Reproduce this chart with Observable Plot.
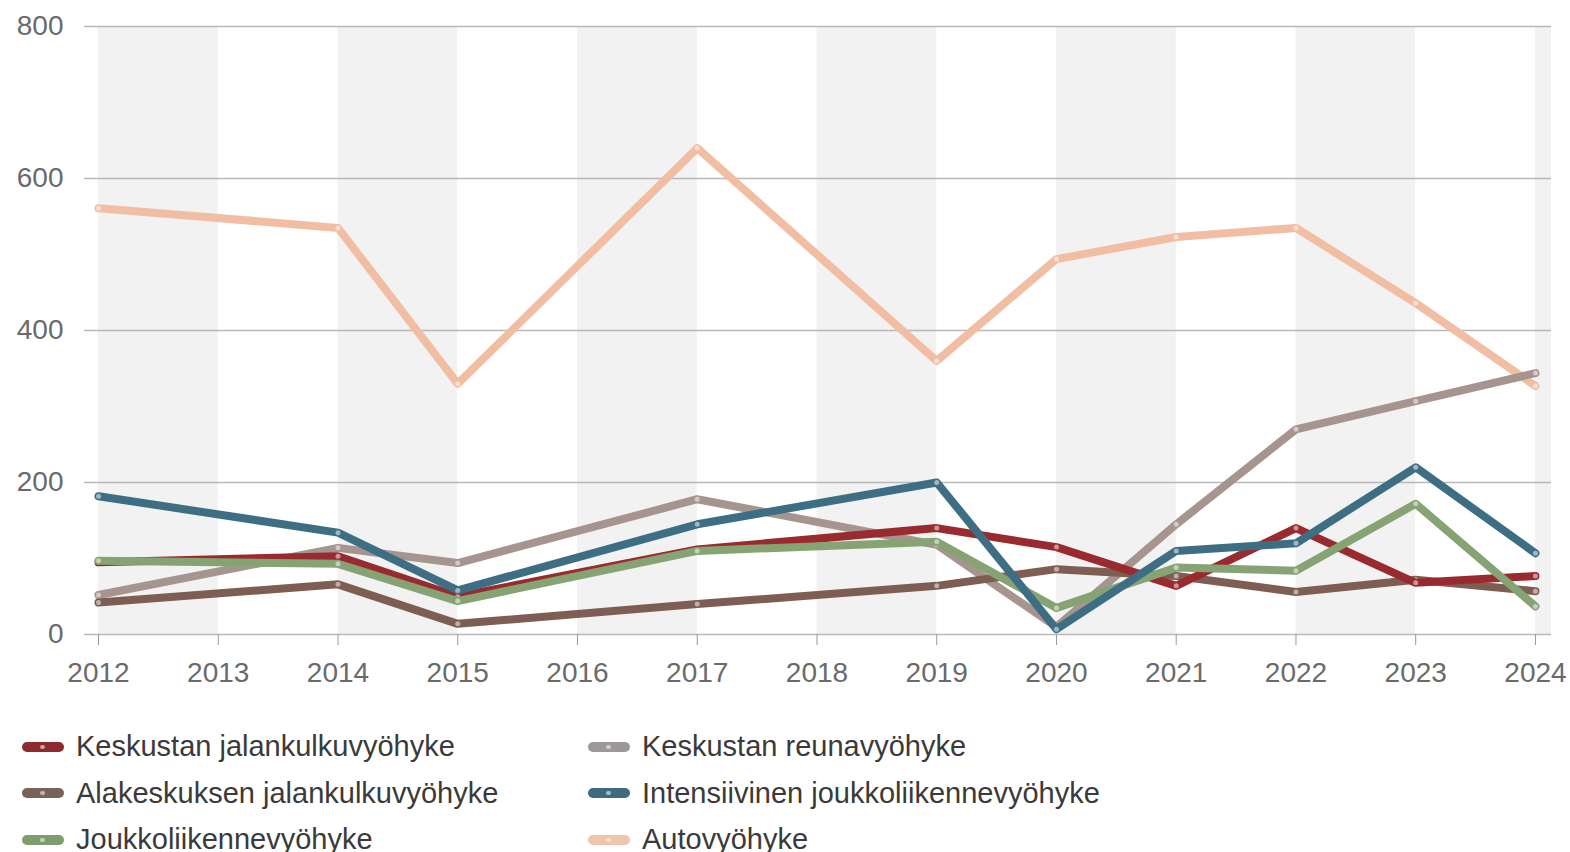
<!DOCTYPE html>
<html>
<head>
<meta charset="utf-8">
<script src="https://cdn.jsdelivr.net/npm/d3@7"></script>
<script src="https://cdn.jsdelivr.net/npm/@observablehq/plot@0.6"></script>
<style>
  html, body { margin: 0; padding: 0; background: #fff; }
  body { width: 1570px; height: 852px; overflow: hidden; font-family: "Liberation Sans", Arial, sans-serif; }
  #legend { position: absolute; left: 0; top: 730px; width: 1570px; }
  .item { position: absolute; display: flex; align-items: center; font-size: 29px; color: #3a3a3a; white-space: nowrap; }
  .sw { width: 42px; height: 10px; border-radius: 5px; margin-right: 12px; position: relative; }
  .sw::after { content: ""; position: absolute; left: 18px; top: 3px; width: 5px; height: 4px; border-radius: 2px; background: rgba(255,255,255,0.55); }
</style>
</head>
<body>
<div id="chart"></div>
<div id="legend"></div>
<script>
const years = [2012, 2014, 2015, 2017, 2019, 2020, 2021, 2022, 2023, 2024];
const seriesNames = [
  "Keskustan jalankulkuvyöhyke",
  "Keskustan reunavyöhyke",
  "Alakeskuksen jalankulkuvyöhyke",
  "Intensiivinen joukkoliikennevyöhyke",
  "Joukkoliikennevyöhyke",
  "Autovyöhyke"
];
const keskustanJalankulku = [95, 103, 50, 112, 140, 115, 64, 140, 68, 77];
const keskustanReuna      = [52, 114, 94, 178, 118, 10, 145, 270, 307, 344];
const alakeskuksenJalank  = [42, 66, 14, 40, 64, 86, 77, 56, 72, 57];
const intensiivinen       = [182, 134, 58, 145, 200, 7, 110, 120, 220, 107];
const joukkoliikenne      = [97, 93, 44, 110, 122, 35, 88, 84, 172, 37];
const autovyohyke         = [561, 535, 330, 640, 360, 494, 523, 535, 436, 327];
const colors = ["#992b30", "#a6958f", "#7e5e52", "#3e6e84", "#86a373", "#f2bea3"];
const legendColors = ["#8e2a30", "#9b9897", "#7a6258", "#3f6b80", "#7f9c6d", "#f1c4ae"];
const xTicks = [2012, 2013, 2014, 2015, 2016, 2017, 2018, 2019, 2020, 2021, 2022, 2023, 2024];
const yTicks = [0, 200, 400, 600, 800];
const bandStarts = [2012, 2014, 2016, 2018, 2020, 2022, 2024];

const xDomain = [2011.883, 2024.134];
const allValues = [keskustanJalankulku, keskustanReuna, alakeskuksenJalank, intensiivinen, joukkoliikenne, autovyohyke];
const rows = [];
allValues.forEach((vals, i) => vals.forEach((v, j) => rows.push({series: seriesNames[i], year: years[j], value: v, idx: i})));
const drawOrder = [5, 1, 2, 0, 4, 3];
const bands = bandStarts.map(s => ({x1: s, x2: Math.min(s + 1, xDomain[1])}));

const marks = [
  Plot.rect(bands, {x1: "x1", x2: "x2", y1: 0, y2: 800, fill: "#f2f2f2"}),
  Plot.ruleY(yTicks, {stroke: "#b9b9b9", strokeWidth: 1.6}),
  Plot.axisY({ticks: yTicks, tickSize: 0, tickPadding: 21, fontSize: 28, fill: "#6a6a6a", tickFormat: d => String(d), label: null}),
  Plot.axisX({ticks: xTicks, tickSize: 11, tickPadding: 17, fontSize: 28, fill: "#6a6a6a", stroke: "#999", tickFormat: d => String(d), label: null})
];
for (const i of drawOrder) {
  const data = rows.filter(r => r.idx === i);
  marks.push(Plot.line(data, {x: "year", y: "value", stroke: colors[i], strokeWidth: 8, strokeLinejoin: "round", strokeLinecap: "round"}));
  marks.push(Plot.dot(data, {x: "year", y: "value", r: 2.5, fill: "#fff", fillOpacity: 0.5, stroke: "none"}));
}

const chart = Plot.plot({
  width: 1570,
  height: 700,
  marginLeft: 84,
  marginRight: 19,
  marginTop: 26,
  marginBottom: 66,
  style: {fontFamily: "'Liberation Sans', Arial, sans-serif", background: "#fff"},
  x: {type: "linear", domain: xDomain, label: null},
  y: {domain: [0, 800], label: null},
  marks
});
document.getElementById("chart").appendChild(chart);

const legend = document.getElementById("legend");
const positions = [[22, 0], [588, 0], [22, 1], [588, 1], [22, 2], [588, 2]];
seriesNames.forEach((name, i) => {
  const it = document.createElement("div");
  it.className = "item";
  it.style.left = positions[i][0] + "px";
  it.style.top = (positions[i][1] * 46.5) + "px";
  const sw = document.createElement("div");
  sw.className = "sw";
  sw.style.background = legendColors[i];
  const tx = document.createElement("span");
  tx.textContent = name;
  it.appendChild(sw);
  it.appendChild(tx);
  legend.appendChild(it);
});
</script>
</body>
</html>
